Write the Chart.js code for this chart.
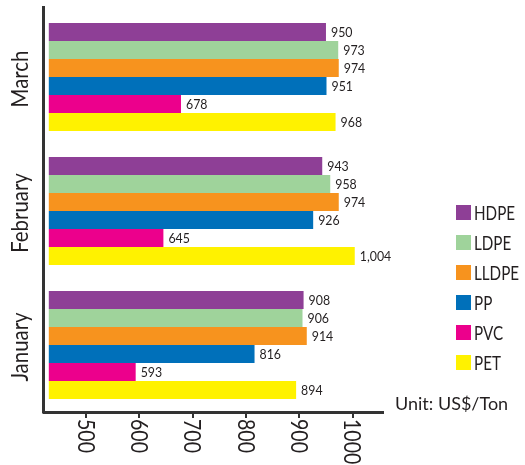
<!DOCTYPE html>
<html>
<head>
<meta charset="utf-8">
<script src="https://cdn.jsdelivr.net/npm/chart.js@4"></script>
<style>
  html, body { margin: 0; padding: 0; background: #fff; }
</style>
</head>
<body>
<canvas id="myChart" width="525" height="465"></canvas>
<script>
var months = ['March', 'February', 'January'];
var seriesNames = ['HDPE', 'LDPE', 'LLDPE', 'PP', 'PVC', 'PET'];
var hdpe = [950, 943, 908];
var ldpe = [973, 958, 906];
var lldpe = [974, 974, 914];
var pp = [951, 926, 816];
var pvc = [678, 645, 593];
var pet = [968, 1004, 894];
var tickValues = [500, 600, 700, 800, 900, 1000];
var unitLabel = 'Unit: US$/Ton';

var colors = ['#8e3f96', '#9fd39b', '#f7931e', '#0070ba', '#ec008c', '#fff200'];
var allSeries = [hdpe, ldpe, lldpe, pp, pvc, pet];
var FONT = 'Lato, "Liberation Sans", sans-serif';

function drawText(ctx, txt, x, y, size, angle, squeeze, align, baseline, weight) {
    ctx.save();
    ctx.translate(x, y);
    ctx.rotate(angle);
    ctx.scale(squeeze, 1);
    ctx.font = (weight || 'normal') + ' ' + size + 'px ' + FONT;
    ctx.fillStyle = '#231f20';
    ctx.textAlign = align;
    ctx.textBaseline = baseline;
    ctx.fillText(txt, 0, 0);
    ctx.restore();
}

// labels, ticks and legend drawn by hand (rotations differ from Chart.js defaults)
var textPlugin = {
    id: 'textPlugin',
    afterDraw: function (chart) {
        var ctx = chart.ctx;
        var xs = chart.scales.x;
        var ys = chart.scales.y;
        var area = chart.chartArea;

        // y axis line, a little taller than the plot area like the original
        ctx.save();
        ctx.strokeStyle = '#333';
        ctx.lineWidth = 3;
        ctx.beginPath();
        ctx.moveTo(area.left - 0.5, 6);
        ctx.lineTo(area.left - 0.5, area.bottom + 1.5);
        ctx.stroke();
        ctx.restore();

        chart.data.datasets.forEach(function (ds, i) {
            var meta = chart.getDatasetMeta(i);
            meta.data.forEach(function (bar, j) {
                drawText(ctx, ds.data[j].toLocaleString('en-US'), bar.x + 5, bar.y + 1, 13, 0, 0.95, 'left', 'middle');
            });
        });

        tickValues.forEach(function (v) {
            var px = xs.getPixelForValue(v);
            drawText(ctx, String(v), px - 8.5, 419, 23, Math.PI / 2, 0.85, 'left', 'alphabetic');
        });

        months.forEach(function (m, i) {
            var py = ys.getPixelForValue(i);
            drawText(ctx, m, 28, py + 2, 24, -Math.PI / 2, 0.85, 'center', 'alphabetic');
        });

        drawText(ctx, unitLabel, 395, 410, 18, 0, 1, 'left', 'alphabetic');

        chart.data.datasets.forEach(function (ds, i) {
            var cy = 212.5 + i * 30;
            ctx.fillStyle = ds.backgroundColor;
            ctx.fillRect(456, cy - 7.5, 15, 15);
            drawText(ctx, ds.label, 474, cy + 1, 19, 0, 0.8, 'left', 'middle');
        });
    }
};

var ctx = document.getElementById('myChart').getContext('2d');
var myChart = new Chart(ctx, {
    type: 'bar',
    data: {
        labels: months,
        datasets: seriesNames.map(function (name, i) {
            return {
                label: name,
                data: allSeries[i],
                backgroundColor: colors[i],
                borderWidth: 0,
                base: 430,
                barPercentage: 1,
                categoryPercentage: 0.806
            };
        })
    },
    options: {
        indexAxis: 'y',
        responsive: false,
        animation: false,
        layout: { padding: { left: 44, top: 10, right: 142, bottom: 47 } },
        plugins: {
            legend: { display: false },
            tooltip: { enabled: false }
        },
        scales: {
            x: {
                type: 'linear',
                min: 421,
                max: 1057,
                afterBuildTicks: function (scale) {
                    scale.ticks = tickValues.map(function (v) { return { value: v }; });
                },
                ticks: { display: false },
                grid: { display: true, drawOnChartArea: false, drawTicks: true, tickLength: 6, color: '#333', lineWidth: 2 },
                border: { display: true, color: '#333', width: 3 }
            },
            y: {
                ticks: { display: false },
                grid: { display: false, drawTicks: false },
                border: { display: false }
            }
        }
    },
    plugins: [textPlugin]
});
</script>
</body>
</html>
